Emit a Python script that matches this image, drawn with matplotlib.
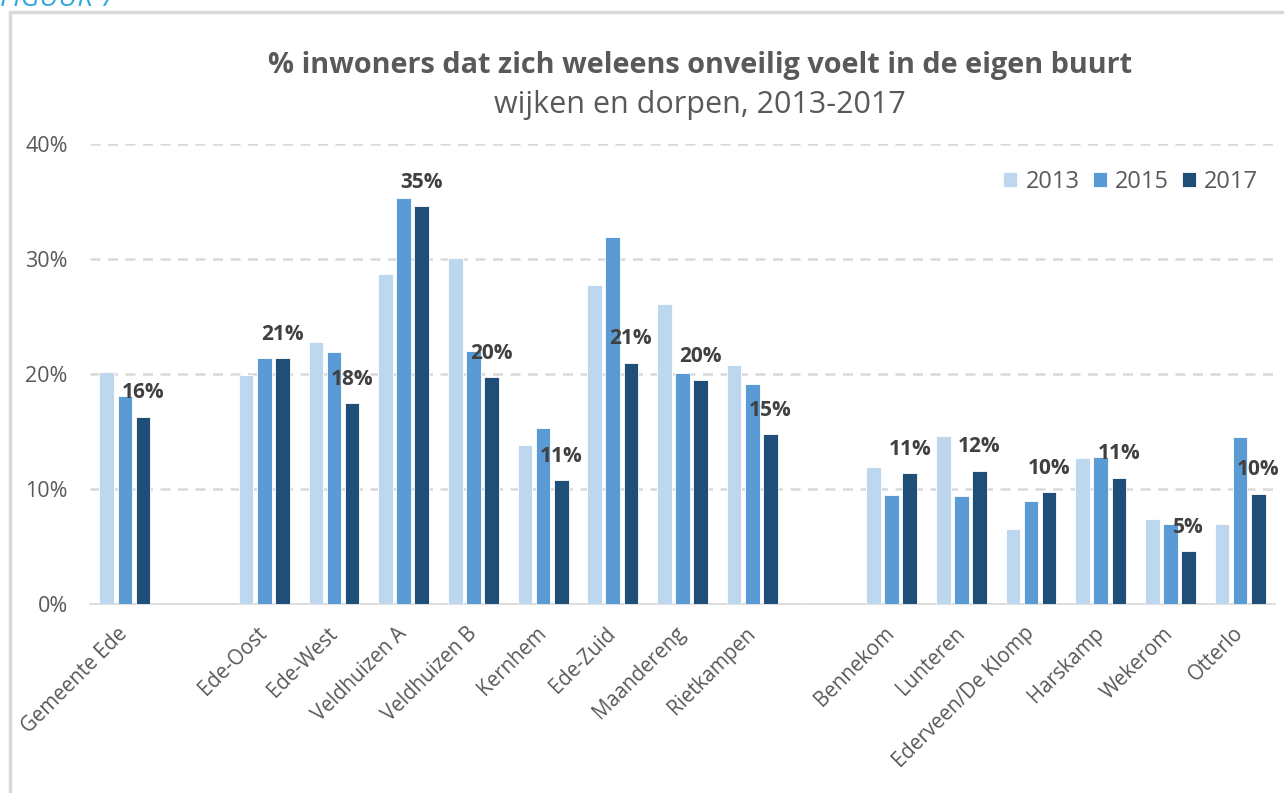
import matplotlib.pyplot as plt
import numpy as np
from matplotlib.lines import Line2D
from matplotlib.ticker import PercentFormatter

plt.rcParams['font.family'] = ['Open Sans', 'DejaVu Sans']

# Categories (blank entries are the gaps between groups)
wijken = ['Gemeente Ede', '',
          'Ede-Oost', 'Ede-West', 'Veldhuizen A', 'Veldhuizen B', 'Kernhem',
          'Ede-Zuid', 'Maandereng', 'Rietkampen', '',
          'Bennekom', 'Lunteren', 'Ederveen/De Klomp', 'Harskamp', 'Wekerom', 'Otterlo']

jaren = ['2013', '2015', '2017']

# % inwoners, None for the blank slots
v2013 = [20.2, None, 19.9, 22.8, 28.7, 30.1, 13.8, 27.7, 26.1, 20.8, None,
         11.9, 14.6, 6.5, 12.7, 7.4, 7.0]
v2015 = [18.1, None, 21.4, 21.9, 35.3, 22.0, 15.3, 31.9, 20.1, 19.1, None,
         9.5, 9.4, 9.0, 12.8, 7.0, 14.5]
v2017 = [16.3, None, 21.4, 17.5, 34.6, 19.7, 10.8, 21.0, 19.5, 14.8, None,
         11.4, 11.6, 9.7, 11.0, 4.6, 9.6]

kleuren = ['#BDD7EE', '#5B9BD5', '#1F4E79']
grijs = '#595959'

W, H = 1284, 793
fig = plt.figure(figsize=(W / 100, H / 100), dpi=100)
ax = fig.add_axes([90 / W, 1 - 604 / H, 1185 / W, 460 / H])

idx = [i for i, w in enumerate(wijken) if w]
x = np.array(idx, dtype=float)
breedte = 0.21
stap = 0.26
series = [v2013, v2015, v2017]
for k, (jaar, vals, kleur) in enumerate(zip(jaren, series, kleuren)):
    h = np.array([vals[i] for i in idx]) / 100
    bars = ax.bar(x + (k - 1) * stap, h, width=breedte, color=kleur,
                  edgecolor='white', linewidth=0.6, label=jaar, zorder=3)
    if jaar == '2017':
        for b, val in zip(bars, h):
            ax.annotate(f'{val * 100:.0f}%', (b.get_x() + b.get_width() / 2, val),
                        xytext=(0, 17), textcoords='offset points',
                        ha='center', va='center', fontsize=15,
                        fontweight='bold', color='#404040', zorder=4)

ax.set_xlim(-0.5, len(wijken) - 0.5)
ax.set_ylim(0, 0.4)
ax.set_yticks([0, 0.1, 0.2, 0.3, 0.4])
ax.yaxis.set_major_formatter(PercentFormatter(1.0, decimals=0))
ax.set_xticks(x)
ax.set_xticklabels([wijken[i] for i in idx], rotation=45, ha='right',
                   va='center', rotation_mode='anchor')
ax.tick_params(axis='both', length=0, labelsize=15.5, labelcolor=grijs)
ax.tick_params(axis='x', labelsize=14.8, pad=19)
ax.tick_params(axis='y', pad=16)

ax.grid(axis='y', color='#D9D9D9', linestyle=(0, (4, 3)), linewidth=1.8, zorder=0)
for s in ['top', 'right', 'left']:
    ax.spines[s].set_visible(False)
ax.spines['bottom'].set_color('#D9D9D9')
ax.spines['bottom'].set_linewidth(1.2)

leg = ax.legend(loc='upper right', bbox_to_anchor=(1.004, 0.99), ncol=3,
                frameon=False, fontsize=17, handlelength=0.6, handleheight=0.6,
                handletextpad=0.35, columnspacing=0.55, labelcolor=grijs)

fig.text(700 / W, 1 - 66 / H, '% inwoners dat zich weleens onveilig voelt in de eigen buurt',
         ha='center', va='center', fontsize=20.8, fontweight='bold', color=grijs)
fig.text(700 / W, 1 - 105 / H, 'wijken en dorpen, 2013-2017',
         ha='center', va='center', fontsize=22, color=grijs)

# figure caption (cut off at the top) and frame
fig.text(0.0, 1 - 6 / H, 'FIGUUR 7', ha='left', va='baseline', fontsize=20,
         style='italic', color='#35A7DE')
fig.add_artist(Line2D([9.5 / W, 9.5 / W, 1.0], [0.0, 1 - 12 / H, 1 - 12 / H],
                      color='#D9D9D9', linewidth=2.5, transform=fig.transFigure))

fig.savefig('out.png', dpi=100)
